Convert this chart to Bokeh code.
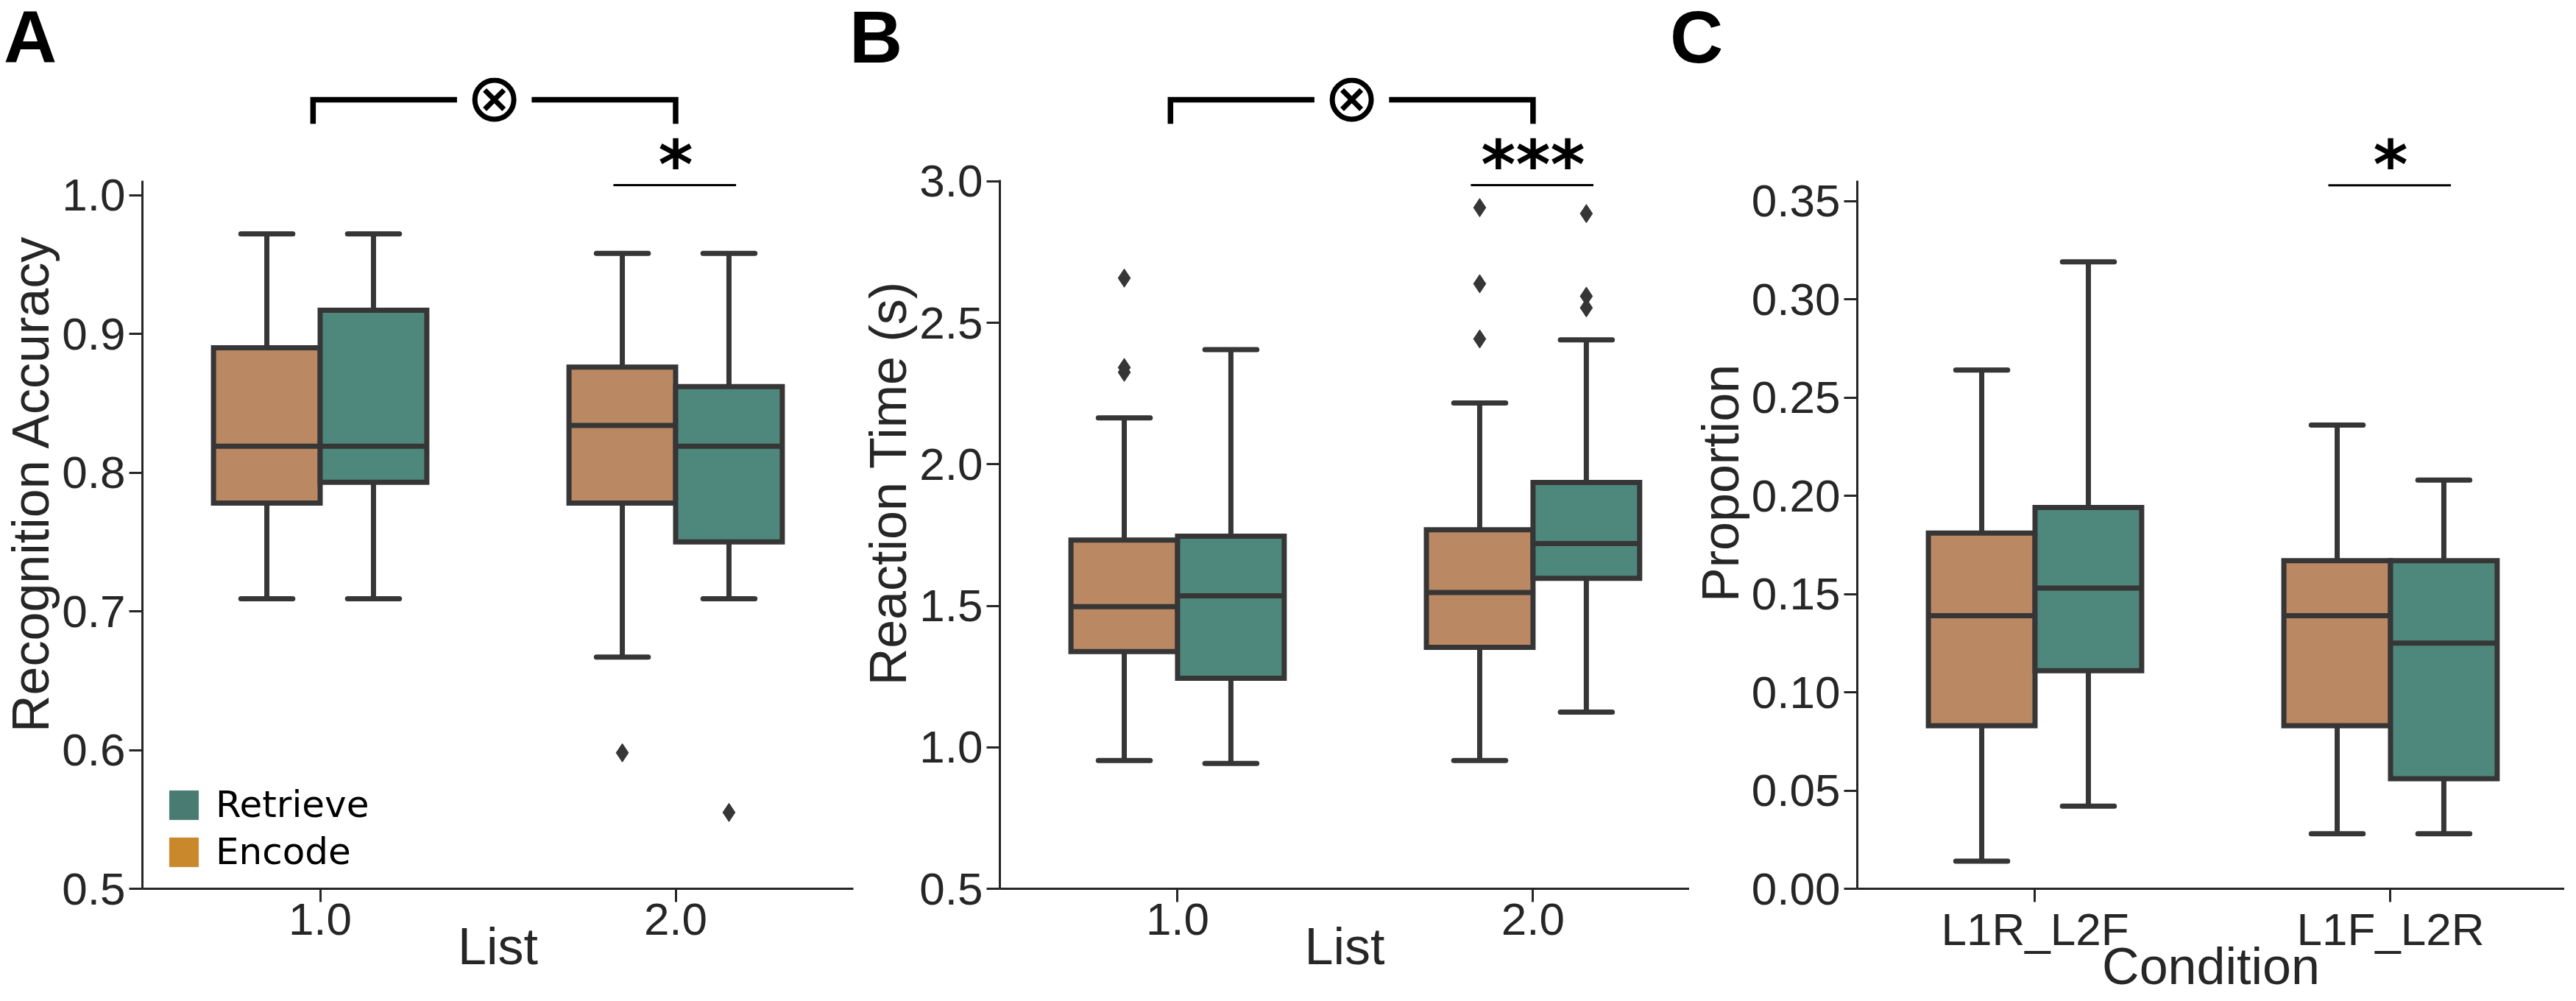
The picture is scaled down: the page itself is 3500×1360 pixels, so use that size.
from bokeh.plotting import figure
from bokeh.models import (Range1d, FixedTicker, Legend, LegendItem, Div,
                          PrintfTickFormatter, CustomJSTickFormatter)
from bokeh.layouts import row, column
from bokeh.embed import file_html
from bokeh.resources import INLINE
from bokeh.core.properties import value

# ---------------- data ----------------
hue_names = ["Encode", "Retrieve"]
list_ticks = [1, 2]
list_labels = ["1.0", "2.0"]
cond_labels = ["L1R_L2F", "L1F_L2R"]
panel_letters = ["A", "B", "C"]

# Panel A: Recognition Accuracy
acc_enc_whislo = [0.709, 0.667]
acc_enc_q1 = [0.778, 0.778]
acc_enc_med = [0.819, 0.834]
acc_enc_q3 = [0.890, 0.876]
acc_enc_whishi = [0.972, 0.958]
acc_enc_out = [[], [0.598]]
acc_ret_whislo = [0.709, 0.709]
acc_ret_q1 = [0.793, 0.750]
acc_ret_med = [0.819, 0.819]
acc_ret_q3 = [0.917, 0.862]
acc_ret_whishi = [0.972, 0.958]
acc_ret_out = [[], [0.555]]
acc_yticks = [0.5, 0.6, 0.7, 0.8, 0.9, 1.0]

# Panel B: Reaction Time (s)
rt_enc_whislo = [0.953, 0.953]
rt_enc_q1 = [1.338, 1.353]
rt_enc_med = [1.497, 1.547]
rt_enc_q3 = [1.732, 1.769]
rt_enc_whishi = [2.164, 2.217]
rt_enc_out = [[2.325, 2.342, 2.658], [2.443, 2.638, 2.907]]
rt_ret_whislo = [0.943, 1.124]
rt_ret_q1 = [1.244, 1.597]
rt_ret_med = [1.535, 1.720]
rt_ret_q3 = [1.746, 1.936]
rt_ret_whishi = [2.405, 2.440]
rt_ret_out = [[], [2.553, 2.594, 2.886]]
rt_yticks = [0.5, 1.0, 1.5, 2.0, 2.5, 3.0]

# Panel C: Proportion
pr_enc_whislo = [0.014, 0.028]
pr_enc_q1 = [0.083, 0.083]
pr_enc_med = [0.139, 0.139]
pr_enc_q3 = [0.181, 0.167]
pr_enc_whishi = [0.264, 0.236]
pr_enc_out = [[], []]
pr_ret_whislo = [0.042, 0.028]
pr_ret_q1 = [0.111, 0.056]
pr_ret_med = [0.153, 0.125]
pr_ret_q3 = [0.194, 0.167]
pr_ret_whishi = [0.319, 0.208]
pr_ret_out = [[], []]
pr_yticks = [0.00, 0.05, 0.10, 0.15, 0.20, 0.25, 0.30, 0.35]

# ---------------- style ----------------
ENC_FILL = "#ba8862"
RET_FILL = "#4e887c"
LEG_ENC = "#c8882b"
LEG_RET = "#4a7b73"
EDGE = "#363636"
AXC = "#262626"
BOX_W = 0.3
CAP_HALF = 0.073
LW = 7
TICK_FONT = "Liberation Sans"
HEADER_H = 95
FIG_H = 1344 - HEADER_H


def make_fig(width, mb_left, mb_right, xr, yr, yticks, yfmt, ybounds, ylabel, xlabel):
    p = figure(width=width, height=FIG_H, x_range=Range1d(*xr), y_range=Range1d(*yr),
               output_backend="svg", toolbar_location=None,
               min_border_left=mb_left, min_border_right=mb_right,
               min_border_top=0, min_border_bottom=144)
    p.outline_line_color = None
    p.xgrid.visible = False
    p.ygrid.visible = False
    for ax in (p.xaxis[0], p.yaxis[0]):
        ax.axis_line_width = 3
        ax.axis_line_color = AXC
        ax.major_tick_line_width = 3
        ax.major_tick_line_color = AXC
        ax.major_tick_out = 18
        ax.major_tick_in = 0
        ax.minor_tick_line_color = None
        ax.major_label_text_font = TICK_FONT
        ax.major_label_text_font_size = "62px"
        ax.major_label_text_color = AXC
        ax.axis_label_text_font = TICK_FONT
        ax.axis_label_text_font_size = "70px"
        ax.axis_label_text_font_style = "normal"
        ax.axis_label_text_color = AXC
    p.yaxis[0].ticker = FixedTicker(ticks=yticks)
    p.yaxis[0].formatter = PrintfTickFormatter(format=yfmt)
    p.yaxis[0].bounds = ybounds
    p.yaxis[0].major_label_standoff = 5
    p.yaxis[0].axis_label = ylabel
    p.yaxis[0].axis_label_standoff = 0
    p.xaxis[0].ticker = FixedTicker(ticks=list_ticks)
    p.xaxis[0].major_label_standoff = 2
    p.xaxis[0].axis_label = xlabel
    p.xaxis[0].axis_label_standoff = -26
    return p


def draw_boxes(p, offset, whislo, q1, med, q3, whishi, outliers, fill):
    x = [pos + offset for pos in list_ticks]
    p.segment(x0=x, y0=q3, x1=x, y1=whishi, line_color=EDGE, line_width=LW)
    p.segment(x0=x, y0=q1, x1=x, y1=whislo, line_color=EDGE, line_width=LW)
    p.segment(x0=[v - CAP_HALF for v in x], y0=whishi, x1=[v + CAP_HALF for v in x], y1=whishi,
              line_color=EDGE, line_width=LW, line_cap="round")
    p.segment(x0=[v - CAP_HALF for v in x], y0=whislo, x1=[v + CAP_HALF for v in x], y1=whislo,
              line_color=EDGE, line_width=LW, line_cap="round")
    p.quad(left=[v - BOX_W / 2 for v in x], right=[v + BOX_W / 2 for v in x], bottom=q1, top=q3,
           fill_color=fill, line_color=EDGE, line_width=LW, line_join="miter")
    p.segment(x0=[v - BOX_W / 2 for v in x], y0=med, x1=[v + BOX_W / 2 for v in x], y1=med,
              line_color=EDGE, line_width=LW)
    ox, oy = [], []
    for v, outs in zip(x, outliers):
        for o in outs:
            ox.append(v)
            oy.append(o)
    if ox:
        p.scatter(x=ox, y=oy, marker="diamond", size=25, fill_color=EDGE, line_color=EDGE, line_width=1)


def sig(p, y_line, y_text, stars):
    p.segment(x0=[2 - 0.175], y0=[y_line], x1=[2 + 0.17], y1=[y_line], line_color="black", line_width=3)
    p.text(x=[2], y=[y_text], text=[stars], text_font=value("DejaVu Sans"),
           text_font_style="bold",
           text_font_size=value("90px"), text_align="center", text_baseline="middle",
           text_color="black")


def bracket(p, y_top, y_leg):
    p.multi_line(xs=[[0.98, 0.98, 1.385], [1.595, 2.0, 2.0]],
                 ys=[[y_leg, y_top, y_top], [y_top, y_top, y_leg]],
                 line_color="black", line_width=7.5, line_join="miter")
    p.scatter(x=[1.49], y=[y_top], marker="circle", size=53, fill_color=None,
              line_color="black", line_width=7)
    p.scatter(x=[1.49], y=[y_top], marker="x", size=37, line_color="black", line_width=7)


# ---------------- Panel A ----------------
pA = make_fig(1165, 189, 6, (0.5, 2.5), (0.5, 1.08466), acc_yticks, "%.1f", (0.4999, 1.0106),
              "Recognition Accuracy", "List")
pA.xaxis[0].formatter = PrintfTickFormatter(format="%.1f")
draw_boxes(pA, -0.15, acc_enc_whislo, acc_enc_q1, acc_enc_med, acc_enc_q3, acc_enc_whishi, acc_enc_out, ENC_FILL)
draw_boxes(pA, 0.15, acc_ret_whislo, acc_ret_q1, acc_ret_med, acc_ret_q3, acc_ret_whishi, acc_ret_out, RET_FILL)
sig(pA, 1.00714, 1.02222, "*")
bracket(pA, 1.06878, 1.05132)
# hidden proxies that only feed the legend swatches
r_ret = pA.vbar(x=list_ticks, top=acc_ret_med, bottom=acc_ret_med, width=BOX_W,
                fill_color=LEG_RET, line_color=LEG_RET, visible=False)
r_enc = pA.vbar(x=list_ticks, top=acc_enc_med, bottom=acc_enc_med, width=BOX_W,
                fill_color=LEG_ENC, line_color=LEG_ENC, visible=False)
leg = Legend(items=[LegendItem(label=hue_names[1], renderers=[r_ret]),
                    LegendItem(label=hue_names[0], renderers=[r_enc])],
             location=(32, 21), glyph_width=49, glyph_height=49, label_standoff=19,
             spacing=6, padding=0, margin=0, border_line_color=None,
             background_fill_alpha=0, inactive_fill_alpha=0, click_policy="none",
             label_text_font="DejaVu Sans",
             label_text_font_size="50px", label_text_color="black")
pA.add_layout(leg)

# ---------------- Panel B ----------------
pB = make_fig(1130, 189, 0, (0.5, 2.4402), (0.5, 3.36641), rt_yticks, "%.1f", (0.4999, 3.006),
              "Reaction Time (s)", "List")
pB.xaxis[0].formatter = PrintfTickFormatter(format="%.1f")
draw_boxes(pB, -0.15, rt_enc_whislo, rt_enc_q1, rt_enc_med, rt_enc_q3, rt_enc_whishi, rt_enc_out, ENC_FILL)
draw_boxes(pB, 0.15, rt_ret_whislo, rt_ret_q1, rt_ret_med, rt_ret_q3, rt_ret_whishi, rt_ret_out, RET_FILL)
sig(pB, 2.98638, 3.06031, "***")
bracket(pB, 3.28859, 3.20298)

# ---------------- Panel C ----------------
pC = make_fig(1189, 224, 0, (0.5, 2.4897), (0.0, 0.41278), pr_yticks, "%.2f", (-0.0001, 0.3605),
              "Proportion", "Condition")
pC.xaxis[0].formatter = CustomJSTickFormatter(
    args=dict(names=cond_labels, pos=list_ticks),
    code="const i = pos.indexOf(Math.round(tick)); return i >= 0 ? names[i] : '';")
draw_boxes(pC, -0.15, pr_enc_whislo, pr_enc_q1, pr_enc_med, pr_enc_q3, pr_enc_whishi, pr_enc_out, ENC_FILL)
draw_boxes(pC, 0.15, pr_ret_whislo, pr_ret_q1, pr_ret_med, pr_ret_q3, pr_ret_whishi, pr_ret_out, RET_FILL)
sig(pC, 0.35801, 0.36870, "*")

# ---------------- panel letters (header strip) ----------------
letter_left = [0, 1149, 2264]
spans = "".join(
    f'<span style="position:absolute;left:{lx}px;top:0px;font-family:\'Liberation Sans\',Arial,sans-serif;'
    f'font-weight:bold;font-size:100px;line-height:90px;color:#000">{t}</span>'
    for t, lx in zip(panel_letters, letter_left))
header = Div(text=f'<div style="position:relative;width:3484px;height:{HEADER_H}px">{spans}</div>',
             width=3484, height=HEADER_H)

layout = column(header, row(pA, pB, pC))
open("out.html", "w").write(file_html(layout, INLINE))
